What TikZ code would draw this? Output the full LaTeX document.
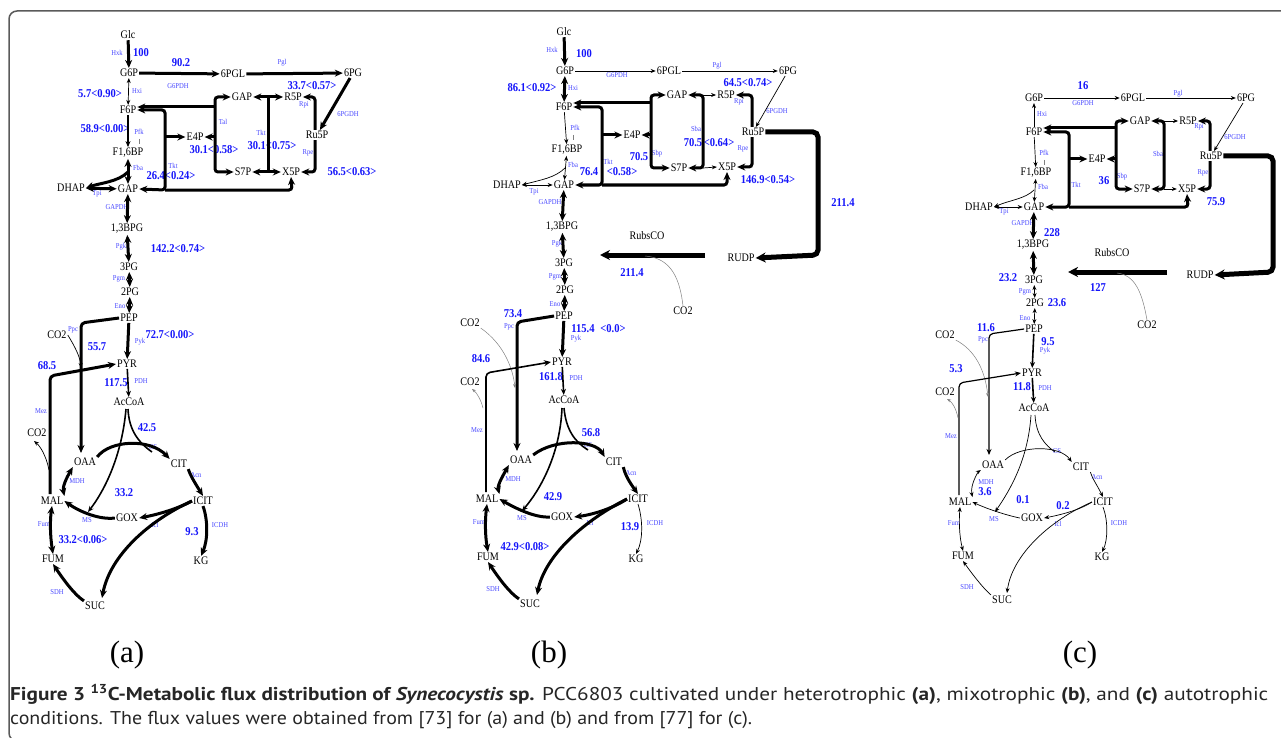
\documentclass[tikz,border=0pt]{standalone}
\usepackage{fontspec}
\usepackage{graphicx}
\setmainfont{Liberation Serif}
\newfontfamily\metf[FakeStretch=0.88]{Liberation Serif}
\newfontfamily\capf{PT Sans}
\usetikzlibrary{arrows.meta}
\pgfdeclarelayer{bg}
\pgfsetlayers{bg,main}
\definecolor{enzc}{RGB}{70,70,255}
\definecolor{flxc}{RGB}{20,20,250}
\definecolor{framec}{RGB}{90,90,90}
\tikzset{
 met/.style={font=\metf\fontsize{11.5}{11.5}\selectfont, inner sep=1pt},
 enz/.style={font=\metf\fontsize{7.5}{7.5}\selectfont, text=enzc, inner sep=0pt},
 flx/.style={font=\metf\bfseries\fontsize{12}{12}\selectfont, text=flxc, inner sep=0pt},
 ath/.style={line width=3pt, -{Stealth[length=8pt,width=7pt]}},
 athh/.style={line width=3pt, {Stealth[length=8pt,width=7pt]}-{Stealth[length=8pt,width=7pt]}},
 amd/.style={line width=1.6pt, -{Stealth[length=6pt,width=5pt]}},
 atn/.style={line width=0.7pt, -{Stealth[length=5pt,width=4pt]}},
 atnn/.style={line width=0.7pt, {Stealth[length=5pt,width=4pt]}-{Stealth[length=5pt,width=4pt]}},
 lth/.style={line width=3pt},
 lmd/.style={line width=1.6pt},
 ltn/.style={line width=0.7pt},
 avth/.style={line width=5pt, -{Stealth[length=10pt,width=10pt]}},
 cotwo/.style={line width=0.5pt, draw=gray, -{Stealth[length=4pt,width=3pt]}},
 rc/.style={rounded corners=3pt},
 tick/.style={line width=0.4pt, draw=gray}
}
\newcommand{\Met}[4]{\node[met] (#1) at (#2,#3) {#4};}
\newcommand{\Enz}[4]{\node[enz] (#1) at (#2,#3) {#4};}
\newcommand{\Flx}[4]{\node[flx] (#1) at (#2,#3) {#4};}
\begin{document}
\begin{tikzpicture}[x=1pt,y=-1pt]
\useasboundingbox (0,0) rectangle (1281,738);
\clip (0,0) rectangle (1281,738);
\draw[framec, line width=1.5pt, rounded corners=8pt] (9,11) rectangle (1300,741);

% ================= PANEL (a) =================
\Met{aGlc}{128}{35}{Glc}
\Met{aG6P}{129}{73}{G6P}
\Met{a6PGL}{233}{74}{6PGL}
\Met{a6PG}{353}{73}{6PG}
\Met{aF6P}{128}{110}{F6P}
\Met{aFBP}{128}{153}{F1,6BP}
\Met{aDHAP}{71}{188}{DHAP}
\Met{aGAP}{128}{189}{GAP}
\Met{aBPG}{127}{229}{1,3BPG}
\Met{a3PG}{129}{267}{3PG}
\Met{a2PG}{130}{292}{2PG}
\Met{aPEP}{129}{318}{PEP}
\Met{aCa}{57}{335}{CO2}
\Met{aPYR}{127}{364}{PYR}
\Met{aACA}{129}{402}{AcCoA}
\Met{aCb}{37}{433}{CO2}
\Met{aOAA}{85}{462}{OAA}
\Met{aCIT}{179}{464}{CIT}
\Met{aICIT}{203}{501}{ICIT}
\Met{aMAL}{52}{501}{MAL}
\Met{aGOX}{127}{518}{GOX}
\Met{aFUM}{53}{559}{FUM}
\Met{aKG}{201}{561}{KG}
\Met{aSUC}{95}{606}{SUC}
\Met{aGAPb}{242}{97}{GAP}
\Met{aS7P}{243}{172}{S7P}
\Met{aE4P}{195}{137}{E4P}
\Met{aR5P}{293}{97}{R5P}
\Met{aX5P}{291}{172}{X5P}
\node[met,fill=white] (aRu5P) at (317,135) {Ru5P};

\Enz{ae1}{117}{53}{Hxk}
\Enz{ae2}{178}{86}{G6PDH}
\Enz{ae3}{282}{63}{Pgl}
\Enz{ae4}{137}{91}{Hxi}
\Enz{ae5}{139}{132}{Pfk}
\Enz{ae6}{138}{168}{Fba}
\Enz{ae7}{97}{194}{Tpi}
\Enz{ae8}{117}{207}{GAPDH}
\Enz{ae9}{223}{122}{Tal}
\Enz{ae10}{261}{133}{Tkt}
\Enz{ae11}{173}{166}{Tkt}
\Enz{ae12}{304}{105}{Rpi}
\Enz{ae13}{308}{153}{Rpe}
\Enz{ae14}{348}{114}{6PGDH}
\Enz{ae15}{121}{247}{Pgk}
\Enz{ae16}{119}{279}{Pgm}
\Enz{ae17}{120}{306}{Eno}
\Enz{ae18}{73}{330}{Ppc}
\Enz{ae19}{140}{342}{Pyk}
\Enz{ae20}{141}{381}{PDH}
\Enz{ae21}{41}{411}{Mez}
\Enz{ae22}{153}{447}{CS}
\Enz{ae23}{196}{475}{Acn}
\Enz{ae24}{77}{481}{MDH}
\Enz{ae25}{87}{520}{MS}
\Enz{ae26}{155}{525}{Icl}
\Enz{ae27}{220}{525}{ICDH}
\Enz{ae28}{44}{524}{Fum}
\Enz{ae29}{57}{592}{SDH}

\Flx{af1}{141}{53}{100}
\Flx{af2}{181}{63}{90.2}
\Flx{af3}{312}{86}{33.7<0.57>}
\Flx{af4}{100}{94}{5.7<0.90>}
\Flx{af5}{105}{129}{58.9<0.00>}
\Flx{af6}{214}{150}{30.1<0.58>}
\Flx{af7}{272}{146}{30.1<0.75>}
\Flx{af8}{171}{176}{26.4<0.24>}
\Flx{af9}{352}{172}{56.5<0.63>}
\Flx{af10}{178}{249}{142.2<0.74>}
\Flx{af11}{170}{335}{72.7<0.00>}
\Flx{af12}{97}{347}{55.7}
\Flx{af13}{47}{366}{68.5}
\Flx{af14}{116}{383}{117.5}
\Flx{af15}{147}{428}{42.5}
\Flx{af16}{124}{493}{33.2}
\Flx{af17}{192}{532}{9.3}
\Flx{af18}{83}{540}{33.2<0.06>}

\draw[ath] (aGlc) -- (aG6P);
\draw[ath] (aG6P) -- (a6PGL);
\draw[ath] (a6PGL) -- (a6PG);
\draw[ath] (a6PG) -- (aRu5P);
\draw[atnn] (aG6P) -- (aF6P);
\draw[amd] (aF6P) -- (aFBP);
\draw[tick] (139,139) -- (139,144);
\draw[athh] (aFBP) -- (aGAP);
\draw[ath] (128,172) .. controls (118,182) and (100,183) .. (aDHAP.east);
\draw[athh] (aDHAP) -- (aGAP);
\draw[athh] (aGAP) -- (aBPG);
\draw[athh] (aBPG) -- (a3PG);
\draw[athh] (a3PG) -- (a2PG);
\draw[athh] (a2PG) -- (aPEP);
\draw[ath] (aPEP) -- (aPYR);
\draw[amd] (aPYR) -- (aACA);
\draw[ath, rounded corners=4pt] (aPEP.west) -- (81,323) -- (81,453);
\draw[atn] (aCa.east) .. controls (72,342) and (80,355) .. (81,368);
\draw[ath, rounded corners=4pt] (50,494) -- (50,376) -- (aPYR.west);
\draw[atn] (49,470) .. controls (46,455) and (40,446) .. (34,441);
% TCA (a)
\draw[ath] (aOAA.north east) .. controls (110,440) and (150,438) .. (aCIT.north west);
\draw[lmd] (128,409) .. controls (129,430) and (138,442) .. (152,452);
\draw[amd] (126,409) .. controls (122,455) and (105,490) .. (88,512);
\draw[ath] (aGOX.west) .. controls (100,520) and (80,512) .. (aMAL.east);
\draw[ath] (aCIT.south east) .. controls (190,475) and (195,483) .. (aICIT.north);
\draw[ath] (aICIT.west) .. controls (175,510) and (155,515) .. (aGOX.east);
\draw[ath] (aICIT.west) .. controls (150,520) and (110,555) .. (102,598);
\draw[ath] (aICIT.south) .. controls (208,520) and (208,540) .. (aKG.north);
\draw[athh] (aMAL.north east) .. controls (62,485) and (70,472) .. (aOAA.south west);
\draw[athh] (aMAL.south) .. controls (50,520) and (50,535) .. (aFUM.north);
\draw[ath] (aSUC.north west) .. controls (75,595) and (65,582) .. (aFUM.south);
% pentose (a)
\draw[athh, rc] (aGAPb.west) -- (215,97) -- (215,172) -- (aS7P.west);
\draw[ath] (215,107) -- (aF6P.east |- 0,107);
\draw[ath] (215,137) -- (aE4P.east);
\draw[athh, rc] (aF6P.east) -- (165,110) -- (165,190) -- (aGAP.east);
\draw[ath] (165,137) -- (aE4P.west);
\draw[ath, rc] (165,190) -- (292,190) -- (aX5P.south);
\draw[lth] (268,97) -- (268,172);
\draw[athh] (aGAPb.east) -- (aR5P.west);
\draw[athh] (aS7P.east) -- (aX5P.west);
\begin{pgfonlayer}{bg}
\draw[athh, rc] (aR5P.east) -- (315,97) -- (315,172) -- (aX5P.east);
\end{pgfonlayer}

% ================= PANEL (b) =================
\Met{bGlc}{564}{32}{Glc}
\Met{bG6P}{565}{71}{G6P}
\Met{b6PGL}{669}{71}{6PGL}
\Met{b6PG}{788}{71}{6PG}
\Met{bF6P}{564}{107}{F6P}
\Met{bFBP}{567}{150}{F1,6BP}
\Met{bDHAP}{507}{185}{DHAP}
\Met{bGAP}{564}{185}{GAP}
\Met{bBPG}{562}{227}{1,3BPG}
\Met{b3PG}{564}{263}{3PG}
\Met{b2PG}{565}{290}{2PG}
\Met{bPEP}{564}{316}{PEP}
\Met{bCa}{470}{323}{CO2}
\Met{bPYR}{562}{362}{PYR}
\Met{bCb}{470}{382}{CO2}
\Met{bACA}{564}{400}{AcCoA}
\Met{bOAA}{521}{460}{OAA}
\Met{bCIT}{614}{462}{CIT}
\Met{bICIT}{638}{499}{ICIT}
\Met{bMAL}{487}{499}{MAL}
\Met{bGOX}{562}{517}{GOX}
\Met{bFUM}{488}{557}{FUM}
\Met{bKG}{636}{559}{KG}
\Met{bSUC}{530}{604}{SUC}
\Met{bGAPb}{677}{95}{GAP}
\Met{bS7P}{679}{168}{S7P}
\Met{bE4P}{632}{135}{E4P}
\Met{bR5P}{726}{95}{R5P}
\Met{bX5P}{727}{167}{X5P}
\node[met,fill=white] (bRu5P) at (753,132) {Ru5P};
\Met{bRUDP}{741}{258}{RUDP}
\Met{bRub}{647}{236}{RubsCO}
\Met{bCc}{683}{311}{CO2}

\Enz{be1}{552}{50}{Hxk}
\Enz{be2}{617}{75}{G6PDH}
\Enz{be3}{717}{66}{Pgl}
\Enz{be4}{573}{88}{Hxi}
\Enz{be5}{575}{128}{Pfk}
\Enz{be6}{573}{165}{Fba}
\Enz{be7}{534}{192}{Tpi}
\Enz{be8}{550}{202}{GAPDH}
\Enz{be9}{657}{154}{Sbp}
\Enz{be10}{608}{162}{Tkt}
\Enz{be11}{696}{129}{Sba}
\Enz{be12}{739}{102}{Rpi}
\Enz{be13}{743}{149}{Rpe}
\Enz{be14}{777}{111}{6PGDH}
\Enz{be15}{557}{244}{Pgk}
\Enz{be16}{555}{277}{Pgm}
\Enz{be17}{555}{304}{Eno}
\Enz{be18}{509}{327}{Ppc}
\Enz{be19}{576}{339}{Pyk}
\Enz{be20}{576}{378}{PDH}
\Enz{be21}{477}{430}{Mez}
\Enz{be22}{588}{445}{CS}
\Enz{be23}{631}{473}{Acn}
\Enz{be24}{513}{479}{MDH}
\Enz{be25}{522}{518}{MS}
\Enz{be26}{590}{523}{Icl}
\Enz{be27}{655}{523}{ICDH}
\Enz{be28}{479}{522}{Fum}
\Enz{be29}{493}{589}{SDH}

\Flx{bf1}{584}{54}{100}
\Flx{bf2}{532}{88}{86.1<0.92>}
\Flx{bf3}{748}{83}{64.5<0.74>}
\Flx{bf4}{639}{157}{70.5}
\Flx{bf5}{589}{172}{76.4}
\Flx{bf6}{622}{172}{<0.58>}
\Flx{bf7}{693}{143}{70.5}
\Flx{bf8}{719}{143}{<0.64>}
\Flx{bf9}{768}{180}{146.9<0.54>}
\Flx{bf10}{843}{203}{211.4}
\Flx{bf11}{632}{273}{211.4}
\Flx{bf12}{513}{314}{73.4}
\Flx{bf13}{583}{329}{115.4}
\Flx{bf14}{613}{329}{<0.0>}
\Flx{bf15}{481}{359}{84.6}
\Flx{bf16}{551}{377}{161.8}
\Flx{bf17}{591}{433}{56.8}
\Flx{bf18}{553}{497}{42.9}
\Flx{bf19}{630}{527}{13.9}
\Flx{bf20}{525}{547}{42.9<0.08>}

\draw[ath] (bGlc) -- (bG6P);
\draw[atn] (bG6P) -- (b6PGL);
\draw[atn] (b6PGL) -- (b6PG);
\draw[atn] (b6PG) -- (bRu5P);
\draw[athh] (bG6P) -- (bF6P);
\draw[atn] (bF6P) -- (bFBP);
\draw[tick] (573,135) -- (573,140);
\draw[atnn] (bFBP) -- (bGAP);
\draw[atn] (565,168) .. controls (555,178) and (540,180) .. (bDHAP.east);
\draw[atnn] (bDHAP) -- (bGAP);
\draw[athh] (bGAP) -- (bBPG);
\draw[athh] (bBPG) -- (b3PG);
\draw[athh] (b3PG) -- (b2PG);
\draw[athh] (b2PG) -- (bPEP);
\draw[ath] (bPEP) -- (bPYR);
\draw[amd] (bPYR) -- (bACA);
\draw[ath, rounded corners=4pt] (bPEP.west) -- (517,322) -- (517,451);
\draw[cotwo] (bCa.south east) .. controls (505,345) and (513,370) .. (515,388);
\draw[lmd, -{Stealth[length=7pt,width=6pt]}, rounded corners=4pt] (486,492) -- (486,373) -- (bPYR.west);
\draw[cotwo] (483,408) .. controls (481,400) and (477,393) .. (472,389);
\draw[avth, rounded corners=5pt] (bRu5P.east) -- (818,132) -- (818,255) -- (bRUDP.east);
\draw[avth] (705,255) -- (600,255);
\draw[cotwo, -] (bCc.north) .. controls (680,280) and (672,258) .. (645,256);
% TCA (b)
\draw[ath] (bOAA.north east) .. controls (555,438) and (595,440) .. (bCIT.north west);
\draw[lmd] (564,408) .. controls (566,430) and (575,442) .. (588,450);
\draw[amd] (562,408) .. controls (560,455) and (540,490) .. (522,511);
\draw[ath] (bGOX.west) .. controls (535,518) and (515,508) .. (bMAL.east);
\draw[ath] (bCIT.south east) .. controls (625,475) and (630,483) .. (bICIT.north);
\draw[ath] (bICIT.west) .. controls (610,510) and (590,515) .. (bGOX.east);
\draw[ath] (bICIT.west) .. controls (585,520) and (545,555) .. (537,595);
\draw[atn] (bICIT.south) .. controls (643,520) and (643,540) .. (bKG.north);
\draw[athh] (bMAL.north east) .. controls (497,485) and (505,472) .. (bOAA.south west);
\draw[athh] (bMAL.south) .. controls (485,520) and (485,535) .. (bFUM.north);
\draw[ath] (bSUC.north west) .. controls (510,593) and (500,580) .. (bFUM.south);
% pentose (b)
\draw[athh, rc] (bGAPb.west) -- (651,95) -- (651,168) -- (bS7P.west);
\draw[ath] (651,103) -- (bF6P.east |- 0,103);
\draw[ath] (651,135) -- (bE4P.east);
\draw[athh, rc] (bF6P.east) -- (602,107) -- (602,185) -- (bGAP.east);
\draw[ath] (602,135) -- (bE4P.west);
\draw[ath, rc] (602,185) -- (727,185) -- (bX5P.south);
\draw[athh, rc] (bGAPb.east) -- (703,95) -- (703,168) -- (bS7P.east);
\draw[atn] (703,95) -- (bR5P.west);
\draw[atn] (703,168) -- (bX5P.west);
\begin{pgfonlayer}{bg}
\draw[athh, rc] (bR5P.east) -- (752,95) -- (752,167) -- (bX5P.east);
\end{pgfonlayer}

% ================= PANEL (c) =================
\Met{cG6P}{1034}{98}{G6P}
\Met{c6PGL}{1133}{98}{6PGL}
\Met{c6PG}{1246}{98}{6PG}
\Met{cF6P}{1034}{132}{F6P}
\Met{cFBP}{1036}{173}{F1,6BP}
\Met{cDHAP}{979}{207}{DHAP}
\Met{cGAP}{1034}{207}{GAP}
\Met{cBPG}{1033}{245}{1,3BPG}
\Met{c3PG}{1034}{280}{3PG}
\Met{c2PG}{1035}{303}{2PG}
\Met{cPEP}{1034}{329}{PEP}
\Met{cCa}{945}{335}{CO2}
\Met{cPYR}{1032}{373}{PYR}
\Met{cCb}{945}{392}{CO2}
\Met{cACA}{1034}{408}{AcCoA}
\Met{cOAA}{993}{465}{OAA}
\Met{cCIT}{1081}{467}{CIT}
\Met{cICIT}{1103}{502}{ICIT}
\Met{cMAL}{960}{502}{MAL}
\Met{cGOX}{1032}{518}{GOX}
\Met{cFUM}{963}{556}{FUM}
\Met{cKG}{1102}{557}{KG}
\Met{cSUC}{1002}{600}{SUC}
\Met{cGAPb}{1140}{121}{GAP}
\Met{cS7P}{1142}{189}{S7P}
\Met{cE4P}{1097}{159}{E4P}
\Met{cR5P}{1188}{121}{R5P}
\Met{cX5P}{1187}{189}{X5P}
\node[met,fill=white] (cRu5P) at (1211,156) {Ru5P};
\Met{cRUDP}{1200}{275}{RUDP}
\Met{cRub}{1112}{253}{RubsCO}
\Met{cCc}{1147}{325}{CO2}

\Enz{ce1}{1083}{103}{G6PDH}
\Enz{ce2}{1178}{94}{Pgl}
\Enz{ce3}{1042}{114}{Hxi}
\Enz{ce4}{1044}{153}{Pfk}
\Enz{ce5}{1043}{187}{Fba}
\Enz{ce6}{1004}{212}{Tpi}
\Enz{ce7}{1023}{223}{GAPDH}
\Enz{ce8}{1076}{185}{Tkt}
\Enz{ce9}{1122}{177}{Sbp}
\Enz{ce10}{1158}{154}{Sba}
\Enz{ce11}{1199}{127}{Rpi}
\Enz{ce12}{1203}{173}{Rpe}
\Enz{ce13}{1235}{137}{6PGDH}
\Enz{ce14}{1025}{292}{Pgm}
\Enz{ce15}{1025}{318}{Eno}
\Enz{ce16}{983}{340}{Ppc}
\Enz{ce17}{1045}{351}{Pyk}
\Enz{ce18}{1045}{388}{PDH}
\Enz{ce19}{951}{436}{Mez}
\Enz{ce20}{1057}{451}{CS}
\Enz{ce21}{1097}{477}{Acn}
\Enz{ce22}{986}{482}{MDH}
\Enz{ce23}{994}{519}{MS}
\Enz{ce24}{1058}{524}{Icl}
\Enz{ce25}{1119}{523}{ICDH}
\Enz{ce26}{954}{523}{Fum}
\Enz{ce27}{967}{587}{SDH}

\Flx{cf1}{1083}{86}{16}
\Flx{cf2}{1104}{181}{36}
\Flx{cf3}{1216}{202}{75.9}
\Flx{cf4}{1052}{233}{228}
\Flx{cf5}{1008}{278}{23.2}
\Flx{cf6}{1057}{303}{23.6}
\Flx{cf7}{1098}{288}{127}
\Flx{cf8}{986}{328}{11.6}
\Flx{cf9}{1048}{342}{9.5}
\Flx{cf10}{956}{369}{5.3}
\Flx{cf11}{1022}{387}{11.8}
\Flx{cf12}{985}{492}{3.6}
\Flx{cf13}{1023}{500}{0.1}
\Flx{cf14}{1063}{506}{0.2}

\draw[atn] (cG6P) -- (c6PGL);
\draw[atn] (c6PGL) -- (c6PG);
\draw[atn] (c6PG) -- (cRu5P);
\draw[atn] (cF6P) -- (cG6P);
\draw[atn] (cF6P) -- (cFBP);
\draw[tick] (1044,160) -- (1044,165);
\draw[atnn] (cFBP) -- (cGAP);
\draw[atn] (1034,190) .. controls (1025,199) and (1010,200) .. (cDHAP.east);
\draw[atnn] (cDHAP) -- (cGAP);
\draw[athh] (cGAP) -- (cBPG);
\draw[athh] (cBPG) -- (c3PG);
\draw[atnn] (c3PG) -- (c2PG);
\draw[atnn] (c2PG) -- (cPEP);
\draw[amd] (cPEP) -- (cPYR);
\draw[amd] (cPYR) -- (cACA);
\draw[line width=1.2pt, -{Stealth[length=6pt,width=5pt]}, rounded corners=4pt] (cPEP.west) -- (989,334) -- (989,455);
\draw[cotwo] (cCa.south east) .. controls (975,350) and (985,370) .. (988,397);
\draw[line width=1.2pt, -{Stealth[length=6pt,width=5pt]}, rounded corners=4pt] (959,495) -- (959,383) -- (cPYR.west);
\draw[cotwo] (958,418) .. controls (956,408) and (952,402) .. (947,399);
\draw[avth, rounded corners=5pt] (cRu5P.east) -- (1273,156) -- (1273,272) -- (cRUDP.east);
\draw[avth] (1167,272) -- (1068,272);
\draw[cotwo, -] (cCc.north) .. controls (1142,292) and (1135,275) .. (1117,273);
% TCA (c)
\draw[atn] (cOAA.north east) .. controls (1020,445) and (1060,445) .. (cCIT.north west);
\draw[ltn] (1035,415) .. controls (1036,435) and (1045,445) .. (1055,452);
\draw[atn] (1031,415) .. controls (1028,460) and (1010,490) .. (995,512);
\draw[atn] (cGOX.west) .. controls (1005,515) and (985,508) .. (cMAL.east);
\draw[atn] (cCIT.south east) .. controls (1092,478) and (1097,485) .. (cICIT.north);
\draw[atn] (cICIT.west) .. controls (1080,510) and (1060,515) .. (cGOX.east);
\draw[atn] (cICIT.west) .. controls (1050,520) and (1012,555) .. (1007,593);
\draw[atn] (cICIT.south) .. controls (1108,520) and (1108,540) .. (cKG.north);
\draw[atnn] (cMAL.north east) .. controls (970,485) and (978,472) .. (cOAA.south west);
\draw[atnn] (cMAL.south) .. controls (959,520) and (959,535) .. (cFUM.north);
\draw[atn] (cSUC.north west) .. controls (985,590) and (975,578) .. (cFUM.south);
% pentose (c)
\draw[athh, rc] (cGAPb.west) -- (1116,121) -- (1116,189) -- (cS7P.west);
\draw[ath] (1116,128) -- (cF6P.east |- 0,128);
\draw[ath] (1116,159) -- (cE4P.east);
\draw[athh, rc] (cF6P.east) -- (1069,132) -- (1069,207) -- (cGAP.east);
\draw[ath] (1069,159) -- (cE4P.west);
\draw[ath, rc] (1069,207) -- (1188,207) -- (cX5P.south);
\draw[athh, rc] (cGAPb.east) -- (1164,121) -- (1164,189) -- (cS7P.east);
\draw[atn] (1164,121) -- (cR5P.west);
\draw[atn] (1164,189) -- (cX5P.west);
\begin{pgfonlayer}{bg}
\draw[athh, rc] (cR5P.east) -- (1210,121) -- (1210,189) -- (cX5P.east);
\end{pgfonlayer}

% ================= labels and caption =================
\node[font=\fontsize{31}{31}\selectfont, inner sep=0pt] (la) at (127,655) {(a)};
\node[font=\fontsize{31}{31}\selectfont, inner sep=0pt] (lb) at (549,655) {(b)};
\node[font=\fontsize{31}{31}\selectfont, inner sep=0pt] (lc) at (1080,655) {(c)};
\node[anchor=base west, inner sep=0pt, text=black!85] (cap1) at (10,700) {\resizebox{1258pt}{\height}{\capf\fontsize{18.5}{20}\selectfont\textbf{Figure 3 \textsuperscript{13}C-Metabolic flux distribution of \textit{Synecocystis} sp.} PCC6803 cultivated under heterotrophic \textbf{(a)}, mixotrophic \textbf{(b)}, and \textbf{(c)} autotrophic}};
\node[anchor=base west, inner sep=0pt, text=black!85] (cap2) at (10,724) {\resizebox{742pt}{\height}{\capf\fontsize{18.5}{20}\selectfont conditions. The flux values were obtained from [73] for (a) and (b) and from [77] for (c).}};
\end{tikzpicture}
\end{document}
